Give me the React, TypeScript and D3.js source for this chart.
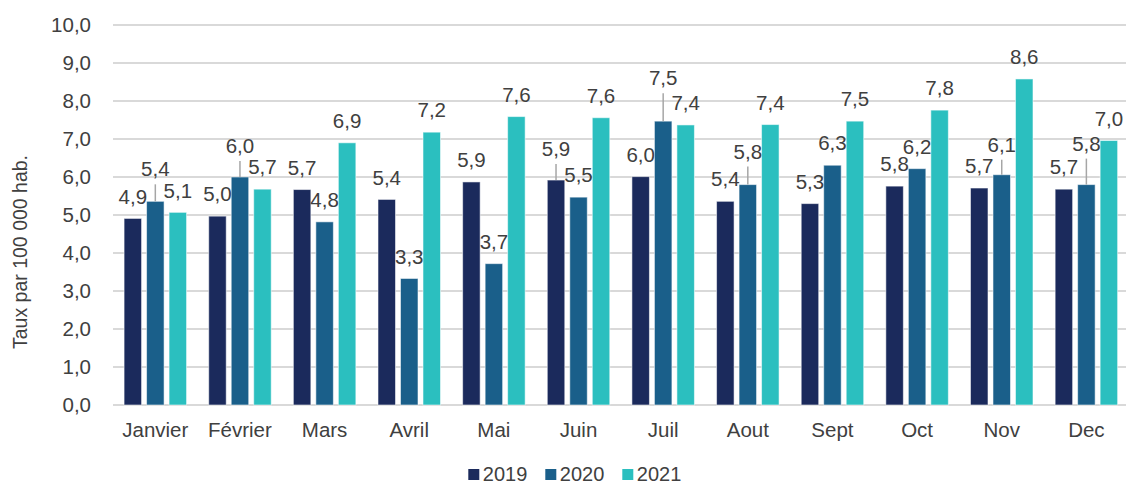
import React from 'react';
import * as d3 from 'd3';

const months = ['Janvier', 'Février', 'Mars', 'Avril', 'Mai', 'Juin', 'Juil', 'Aout', 'Sept', 'Oct', 'Nov', 'Dec'];
const years = ['2019', '2020', '2021'];
const rate2019 = [4.91, 4.97, 5.67, 5.41, 5.87, 5.92, 6.01, 5.36, 5.3, 5.76, 5.71, 5.68];
const rate2020 = [5.36, 6.0, 4.82, 3.33, 3.72, 5.47, 7.47, 5.8, 6.31, 6.22, 6.06, 5.8];
const rate2021 = [5.07, 5.68, 6.9, 7.18, 7.59, 7.56, 7.37, 7.38, 7.47, 7.76, 8.58, 6.96];
const yTicks = [0, 1, 2, 3, 4, 5, 6, 7, 8, 9, 10];

// labels Excel pushed up with a leader line (extra px above the default spot)
const labelLift: Record<string, number> = {
  'Janvier-2020': 10,
  'Février-2020': 9,
  'Juin-2019': 9,
  'Juil-2020': 21,
  'Aout-2020': 11,
  'Nov-2020': 8,
  'Dec-2020': 19,
};

const colors: Record<string, string> = { '2019': '#1b2a5c', '2020': '#1a5f8a', '2021': '#2bbfbf' };
const font = '"Liberation Sans", Arial, sans-serif';
const textColor = '#404040';

const W = 1126;
const H = 485;

const fmt = (v: number) => v.toFixed(1).replace('.', ',');

export default function App() {
  const x = d3.scaleBand<string>().domain(months).range([113, 1128.7]).padding(0);
  const xi = d3.scaleBand<string>().domain(years).range([-31.25, 31.25]).paddingInner(0.222).paddingOuter(0);
  const y = d3.scaleLinear().domain([0, 10]).range([405, 25]);

  const series: Record<string, number[]> = { '2019': rate2019, '2020': rate2020, '2021': rate2021 };
  const rows = months.flatMap((m, i) =>
    years.map((yr) => ({ m, yr, v: series[yr][i], key: `${m}-${yr}` }))
  );

  return (
    <div style={{ position: 'absolute', left: 0, top: 0 }}>
      <svg width={W} height={H} style={{ display: 'block', fontFamily: font }}>
        <rect width={W} height={H} fill="#fff" />
        {yTicks.map((t) => (
          <g key={t}>
            <line x1={113} x2={W} y1={y(t)} y2={y(t)} stroke="#d9d9d9" strokeWidth={1.8} />
            <text x={91} y={y(t)} dy="0.35em" textAnchor="end" fontSize={20.5} fill={textColor}>
              {fmt(t)}
            </text>
          </g>
        ))}
        <text
          transform={`translate(20,252) rotate(-90)`}
          textAnchor="middle"
          dy="0.35em"
          fontSize={19.5}
          fill={textColor}
        >
          Taux par 100 000 hab.
        </text>
        {rows.map((r) => {
          const cx = (x(r.m) as number) + x.bandwidth() / 2;
          const bx = cx + (xi(r.yr) as number);
          const top = y(r.v);
          return (
            <rect
              key={r.key}
              x={bx}
              y={top}
              width={xi.bandwidth()}
              height={y(0) - top}
              fill={colors[r.yr]}
              stroke="#ffffff"
              strokeOpacity={0.55}
              strokeWidth={1}
            />
          );
        })}
        {rows.map((r) => {
          const cx = (x(r.m) as number) + x.bandwidth() / 2;
          const bc = cx + (xi(r.yr) as number) + xi.bandwidth() / 2;
          const top = y(r.v);
          const lift = labelLift[r.key] || 0;
          const ly = top - 22 - lift;
          return (
            <g key={'l' + r.key}>
              {lift > 0 && (
                <line x1={bc} x2={bc} y1={ly + 15} y2={top} stroke="#a6a6a6" strokeWidth={1.5} />
              )}
              <text x={bc} y={ly} dy="0.35em" textAnchor="middle" fontSize={20.5} fill={textColor}>
                {fmt(r.v)}
              </text>
            </g>
          );
        })}
        {months.map((m) => (
          <text
            key={m}
            x={(x(m) as number) + x.bandwidth() / 2}
            y={430}
            dy="0.35em"
            textAnchor="middle"
            fontSize={20.5}
            fill={textColor}
          >
            {m}
          </text>
        ))}
        {years.map((yr, i) => (
          <g key={yr} transform={`translate(${468.3 + i * 77},0)`}>
            <rect x={0} y={469} width={11} height={11} fill={colors[yr]} />
            <text x={14.5} y={474} dy="0.35em" fontSize={20} fill={textColor}>
              {yr}
            </text>
          </g>
        ))}
      </svg>
    </div>
  );
}
